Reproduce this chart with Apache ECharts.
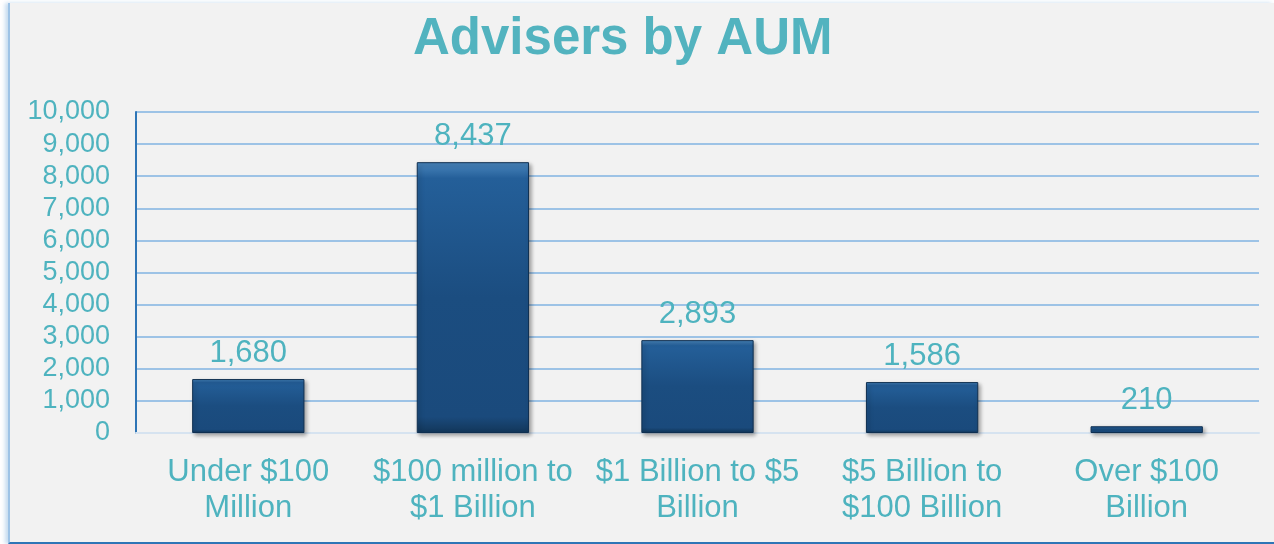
<!DOCTYPE html>
<html>
<head>
<meta charset="utf-8">
<script src="https://cdn.jsdelivr.net/npm/echarts@6/dist/echarts.min.js"></script>
<style>
  html, body { margin: 0; padding: 0; background: #ffffff; }
  #frame {
    position: absolute; left: 8px; top: 3px; width: 1264px; height: 539px;
    background: #f2f2f2;
    border-left: 2px solid #9dc3e6;
    border-bottom: 2px solid #2e75b6;
    box-shadow: -3px 0 4px rgba(91,155,213,0.35);
  }
  #chart { position: absolute; left: 0; top: 0; width: 1274px; height: 544px; }
</style>
</head>
<body>
<div id="frame"></div>
<div id="chart"></div>
<script>
  const categories = ['Under $100\nMillion', '$100 million to\n$1 Billion', '$1 Billion to $5\nBillion', '$5 Billion to\n$100 Billion', 'Over $100\nBillion'];
  const advisers = [1680, 8437, 2893, 1586, 210];

  const teal = '#4eb3bf';
  const chart = echarts.init(document.getElementById('chart'));
  chart.setOption({
    backgroundColor: 'transparent',
    title: {
      text: 'Advisers by AUM',
      left: 408,
      top: 9,
      textStyle: {
        color: '#52b3bf',
        fontFamily: 'Liberation Sans',
        fontWeight: 'bold',
        fontSize: 51
      }
    },
    grid: { left: 136, right: 15, top: 112, bottom: 111, containLabel: false },
    xAxis: {
      type: 'category',
      data: categories,
      axisLine: { show: true, lineStyle: { color: '#d6e3f0', width: 2 } },
      axisTick: { show: false },
      axisLabel: {
        color: teal,
        fontFamily: 'Liberation Sans',
        fontSize: 31,
        lineHeight: 36,
        margin: 21,
        interval: 0
      }
    },
    yAxis: {
      type: 'value',
      min: 0,
      max: 10000,
      interval: 1000,
      axisLine: { show: true, lineStyle: { color: '#2e75b6', width: 2 } },
      axisTick: { show: false },
      splitLine: { lineStyle: { color: '#9dc3e6', width: 2 } },
      axisLabel: {
        color: teal,
        fontFamily: 'Liberation Sans',
        fontSize: 27,
        margin: 26,
        formatter: v => v.toLocaleString('en-US')
      }
    },
    series: [{
      type: 'bar',
      data: advisers,
      barWidth: '50%',
      itemStyle: {
        color: new echarts.graphic.LinearGradient(0, 0, 0, 1, [
          { offset: 0, color: '#4a86bd' },
          { offset: 0.06, color: '#245f99' },
          { offset: 0.5, color: '#1b4d80' },
          { offset: 0.94, color: '#1a4a7c' },
          { offset: 1, color: '#123659' }
        ]),
        borderColor: '#0f2f50',
        borderWidth: 1,
        shadowColor: 'rgba(0,0,0,0.35)',
        shadowBlur: 4,
        shadowOffsetX: 2,
        shadowOffsetY: 2
      },
      label: {
        show: true,
        position: 'top',
        distance: 10,
        color: teal,
        fontFamily: 'Liberation Sans',
        fontSize: 31,
        formatter: p => p.value.toLocaleString('en-US')
      }
    }]
  });
</script>
</body>
</html>
